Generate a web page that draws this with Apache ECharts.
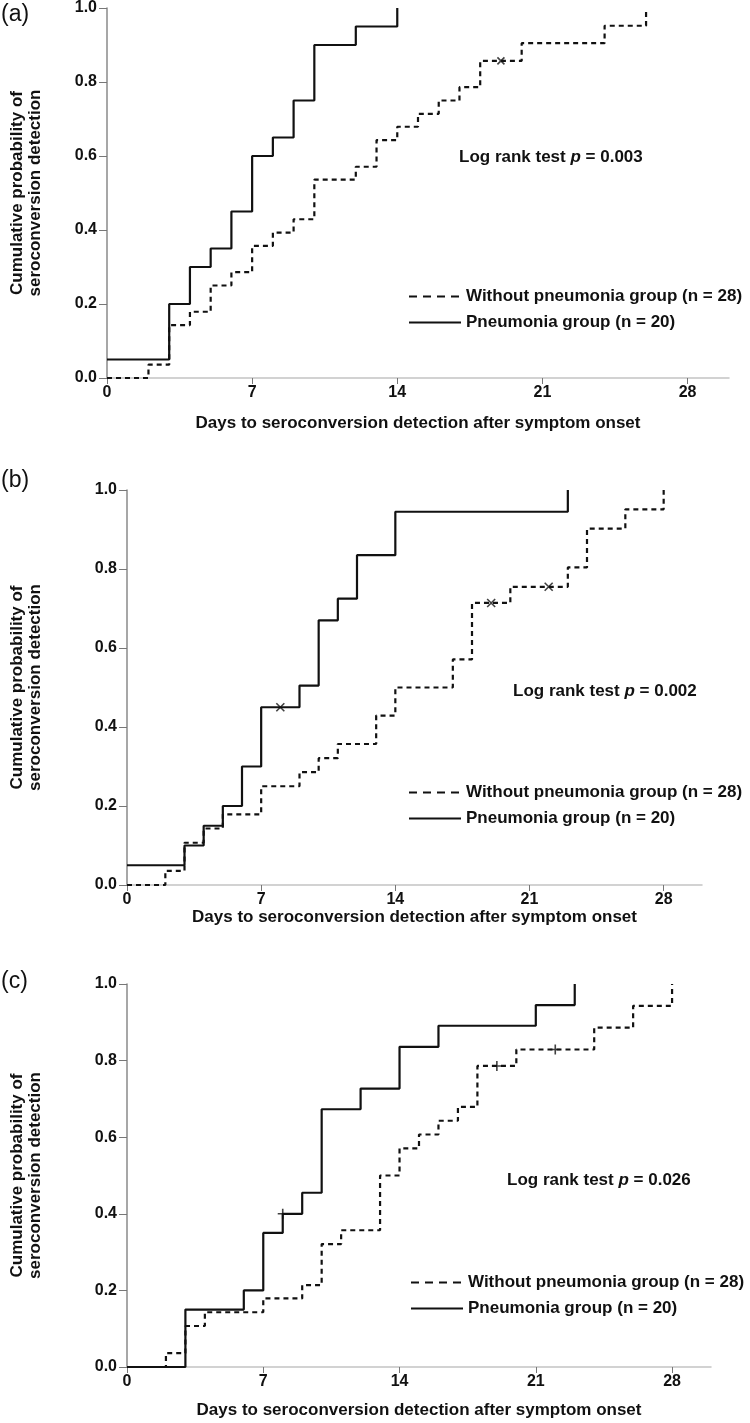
<!DOCTYPE html>
<html>
<head>
<meta charset="utf-8">
<script src="https://cdn.jsdelivr.net/npm/echarts@6/dist/echarts.min.js"></script>
<style>
html,body{margin:0;padding:0;background:#fff;}
#chart{width:750px;height:1423px;}
</style>
</head>
<body>
<div id="chart"></div>
<script>
// ---------- DATA ----------
const xTicks = [0, 7, 14, 21, 28];
const yTicks = [0.0, 0.2, 0.4, 0.6, 0.8, 1.0];
const nameWithout = 'Without pneumonia group (n = 28)';
const namePneu = 'Pneumonia group (n = 20)';
const panelLabels = ['(a)', '(b)', '(c)'];
const pValues = ['0.003', '0.002', '0.026'];

// Panel (a)
const pneuA = [[0,0.05],[3,0.20],[4,0.30],[5,0.35],[6,0.45],[7,0.60],[8,0.65],[9,0.75],[10,0.90],[12,0.95],[14,1.00]];
const nonA  = [[0,0],[2,0.036],[3,0.143],[4,0.179],[5,0.25],[6,0.286],[7,0.357],[8,0.393],[9,0.429],[10,0.536],[12,0.571],[13,0.643],[14,0.679],[15,0.714],[16,0.75],[17,0.786],[18,0.857],[20,0.905],[24,0.952],[26,1.0]];
const pneuCensorA = [];
const nonCensorA  = [[19,0.857]];

// Panel (b)
const pneuB = [[0,0.05],[3,0.10],[4,0.15],[5,0.20],[6,0.30],[7,0.45],[9,0.505],[10,0.67],[11,0.725],[12,0.835],[14,0.945],[23,1.0]];
const nonB  = [[0,0],[2,0.036],[3,0.107],[4,0.143],[5,0.179],[7,0.25],[9,0.286],[10,0.321],[11,0.357],[13,0.429],[14,0.5],[17,0.571],[18,0.714],[20,0.755],[23,0.804],[24,0.902],[26,0.951],[28,1.0]];
const pneuCensorB = [[8,0.45]];
const nonCensorB  = [[19,0.714],[22,0.755]];

// Panel (c)
const pneuC = [[0,0],[3,0.15],[6,0.20],[7,0.35],[8,0.40],[9,0.455],[10,0.673],[12,0.727],[14,0.836],[16,0.891],[21,0.945],[23,1.0]];
const nonC  = [[0,0],[2,0.036],[3,0.107],[4,0.143],[7,0.179],[9,0.214],[10,0.321],[11,0.357],[13,0.5],[14,0.571],[15,0.607],[16,0.643],[17,0.679],[18,0.786],[20,0.829],[24,0.886],[26,0.943],[28,1.0]];
const pneuCensorC = [[8,0.40]];
const nonCensorC  = [[19,0.786],[22,0.829]];

// ---------- LAYOUT ----------
const FONT = '"Liberation Sans", Arial, sans-serif';
const CROSS_X = 'path://M0,0L10,10M10,0L0,10';
const CROSS_P = 'path://M5,0L5,10M0,5L10,5';

const panels = [
  {pneu: pneuA, non: nonA, pc: pneuCensorA, nc: nonCensorA,
   grid: {left: 103, top: 5, width: 626, height: 373},
   label: {left: 1, top: 3}, yGap: 63, xGap: 37, censorSym: CROSS_X, censorSize: 7,
   logrank: {left: 459, top: 149}, legend: {left: 408, top: 288}},
  {pneu: pneuB, non: nonB, pc: pneuCensorB, nc: nonCensorB,
   grid: {left: 123, top: 490, width: 579, height: 395},
   label: {left: 1, top: 469}, yGap: 83, xGap: 23, censorSym: CROSS_X, censorSize: 8,
   logrank: {left: 513, top: 683}, legend: {left: 408, top: 784}},
  {pneu: pneuC, non: nonC, pc: pneuCensorC, nc: nonCensorC,
   grid: {left: 123, top: 984, width: 588, height: 383},
   label: {left: 1, top: 970}, yGap: 83, xGap: 35, censorSym: CROSS_P, censorSize: 10,
   logrank: {left: 507, top: 1172}, legend: {left: 410, top: 1274}}
];

const grids = [], xAxes = [], yAxes = [], series = [], titles = [], legends = [];

panels.forEach((p, i) => {
  grids.push(Object.assign({containLabel: false}, p.grid));
  xAxes.push({
    type: 'value', gridIndex: i, min: 0, max: 30, interval: 7,
    name: 'Days to seroconversion detection after symptom onset',
    nameLocation: 'middle', nameGap: p.xGap,
    nameTextStyle: {fontFamily: FONT, fontWeight: 'bold', fontSize: 17, color: '#111'},
    axisLine: {show: true, onZero: false, lineStyle: {color: '#c4c4c4', width: 1.5}},
    axisTick: {show: true, length: 6, lineStyle: {color: '#777', width: 1}, customValues: xTicks},
    axisLabel: {fontFamily: FONT, fontWeight: 'bold', fontSize: 16, color: '#111', margin: 7, customValues: xTicks},
    splitLine: {show: false}
  });
  yAxes.push({
    type: 'value', gridIndex: i, min: 0, max: 1, interval: 0.2,
    name: 'Cumulative probability of\nseroconversion detection',
    nameLocation: 'middle', nameGap: p.yGap, nameRotate: 90,
    nameTextStyle: {fontFamily: FONT, fontWeight: 'bold', fontSize: 17, lineHeight: 18, color: '#111'},
    axisLine: {show: true, lineStyle: {color: '#8a8a8a', width: 1.5}},
    axisTick: {show: true, length: 8, lineStyle: {color: '#777', width: 1}, customValues: yTicks},
    axisLabel: {fontFamily: FONT, fontWeight: 'bold', fontSize: 16, color: '#111', margin: 10,
      customValues: yTicks, formatter: v => v.toFixed(1)},
    splitLine: {show: false}
  });
  series.push({
    name: nameWithout, type: 'line', xAxisIndex: i, yAxisIndex: i, step: 'end',
    data: p.non, symbol: 'none', clip: false, z: 3,
    lineStyle: {color: '#111', width: 2.2, type: [5, 4]}, itemStyle: {color: '#111'}
  });
  series.push({
    name: namePneu, type: 'line', xAxisIndex: i, yAxisIndex: i, step: 'end',
    data: p.pneu, symbol: 'none', clip: false, z: 4,
    lineStyle: {color: '#111', width: 2.2, type: 'solid'}, itemStyle: {color: '#111'}
  });
  [[p.nc, 'censNon'], [p.pc, 'censPneu']].forEach(([d, nm]) => {
    if (d.length) series.push({
      name: nm + i, type: 'scatter', xAxisIndex: i, yAxisIndex: i, data: d,
      symbol: p.censorSym, symbolSize: p.censorSize, z: 5,
      itemStyle: {color: 'rgba(0,0,0,0)', borderColor: '#111', borderWidth: 1.6}
    });
  });
  titles.push({
    text: panelLabels[i], left: p.label.left, top: p.label.top, padding: 0,
    textStyle: {fontFamily: FONT, fontWeight: 'normal', fontSize: 23, color: '#111'}
  });
  titles.push({
    text: '{n|Log rank test }{i|p}{n| = ' + pValues[i] + '}',
    left: p.logrank.left, top: p.logrank.top, padding: 0,
    textStyle: {rich: {
      n: {fontFamily: FONT, fontWeight: 'bold', fontSize: 17, color: '#111'},
      i: {fontFamily: FONT, fontWeight: 'bold', fontStyle: 'italic', fontSize: 17, color: '#111'}
    }}
  });
  legends.push({
    orient: 'vertical', left: p.legend.left, top: p.legend.top, padding: 0,
    itemWidth: 52, itemHeight: 14, itemGap: 9, selectedMode: false,
    textStyle: {fontFamily: FONT, fontWeight: 'bold', fontSize: 17, color: '#111'},
    itemStyle: {color: 'rgba(0,0,0,0)', borderWidth: 0, opacity: 0},
    data: [
      {name: nameWithout, lineStyle: {type: [8, 6], width: 2, color: '#111'}},
      {name: namePneu, lineStyle: {type: 'solid', width: 2, color: '#111'}}
    ]
  });
});

const chart = echarts.init(document.getElementById('chart'), null, {renderer: 'canvas'});
chart.setOption({
  backgroundColor: '#fff',
  animation: false,
  title: titles,
  legend: legends,
  grid: grids,
  xAxis: xAxes,
  yAxis: yAxes,
  series: series
});
</script>
</body>
</html>
